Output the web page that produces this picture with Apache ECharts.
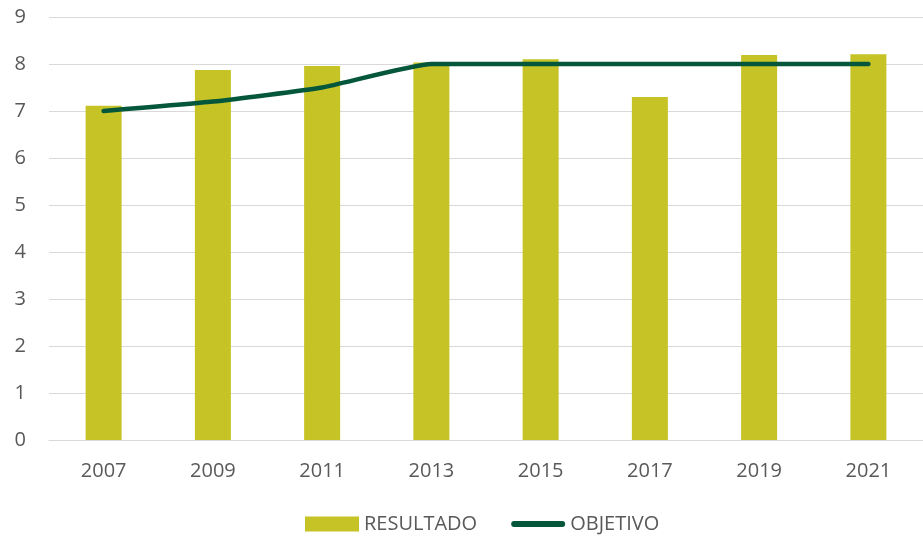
<!DOCTYPE html>
<html>
<head>
<meta charset="utf-8">
<script src="https://cdn.jsdelivr.net/npm/echarts@6/dist/echarts.min.js"></script>
<style>
  html, body { margin: 0; padding: 0; background: #fff; }
  #main { width: 923px; height: 539px; }
</style>
</head>
<body>
<div id="main"></div>
<script>
// datos
var years = ['2007', '2009', '2011', '2013', '2015', '2017', '2019', '2021'];
var resultado = [7.11, 7.87, 7.96, 8.03, 8.1, 7.3, 8.19, 8.21];
var objetivo = [7, 7.2, 7.5, 8, 8, 8, 8, 8];

var font = 'Open Sans';
var chart = echarts.init(document.getElementById('main'));

var option = {
  animation: false,
  grid: { left: 49, right: -5, top: 17, bottom: 99 },
  legend: {
    bottom: 0,
    left: 300,
    itemGap: 34,
    textStyle: { color: '#595959', fontSize: 20, fontFamily: font },
    data: [
      { name: 'RESULTADO', icon: 'rect', itemStyle: { color: '#c5c326' } },
      {
        name: 'OBJETIVO',
        icon: 'path://M3,0 L53,0 A3,3 0 0 1 53,6 L3,6 A3,3 0 0 1 3,0 Z',
        itemStyle: { color: '#05573b' }
      }
    ],
    itemWidth: 54,
    itemHeight: 15
  },
  xAxis: {
    type: 'category',
    data: years,
    axisTick: { show: false },
    axisLine: { lineStyle: { color: '#d9d9d9', width: 1 } },
    axisLabel: { color: '#595959', fontSize: 20, fontFamily: font, margin: 21 }
  },
  yAxis: {
    type: 'value',
    min: 0,
    max: 9,
    interval: 1,
    axisLabel: { color: '#595959', fontSize: 20, fontFamily: font, margin: 23 },
    splitLine: { lineStyle: { color: '#d9d9d9', width: 1 } }
  },
  series: [
    {
      name: 'RESULTADO',
      type: 'bar',
      data: resultado,
      barWidth: 36,
      itemStyle: { color: '#c5c326' }
    },
    {
      name: 'OBJETIVO',
      type: 'line',
      data: objetivo,
      smooth: 0.15,
      symbol: 'none',
      lineStyle: { color: '#05573b', width: 4.5, cap: 'round' },
      itemStyle: { color: '#05573b' }
    }
  ]
};

chart.setOption(option);
</script>
</body>
</html>
